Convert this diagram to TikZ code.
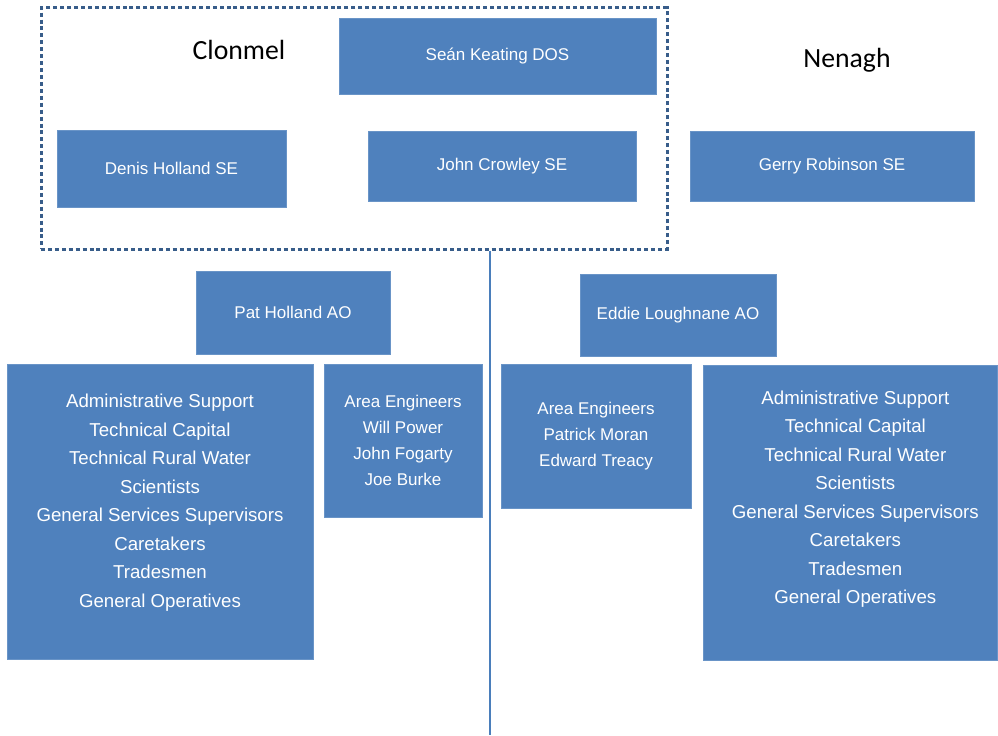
\documentclass[tikz,border=0pt]{standalone}
\usepackage{fontspec}
\setmainfont{Liberation Sans}
\newfontfamily\judulfont{Carlito}
\usepackage{xcolor}
\usepackage{tikz}
\usetikzlibrary{positioning}

\definecolor{biru}{HTML}{4F81BD}
\definecolor{birutua}{HTML}{385D8A}
\definecolor{garisbiru}{HTML}{4A7EBB}

\begin{document}
\begin{tikzpicture}[
    x=0.75pt, y=-0.75pt,
    kotak/.style={fill=biru, draw=biru!85!white, inner sep=0pt, align=center,
                  text=white, font=\fontsize{12.75}{19.5}\selectfont},
    teksbesar/.style={align=center, text=white, inner sep=0pt,
                  font=\fontsize{14}{21.4}\selectfont},
    judul/.style={font=\judulfont\fontsize{20.8}{24}\selectfont},
    bingkai/.style={draw=birutua, line width=2.25pt, dash pattern=on 3pt off 2.2pt,
                  inner sep=0pt},
    garis/.style={draw=garisbiru, line width=1.2pt}
  ]
    \useasboundingbox (0,0) rectangle (998,735);

    % kotak putus-putus Clonmel
    \node[bingkai, minimum width=469.5pt, minimum height=180.75pt] (frame) at (354,128.5) {};
    \node[judul] (clonmel) at (239,50) {Clonmel};
    \node[judul] (nenagh) at (847,60) {Nenagh};

    % baris atas
    \node[kotak, minimum width=237.75pt, minimum height=57pt] (dos) at (497.5,56) {Seán Keating DOS};
    \node[kotak, minimum width=171.75pt, minimum height=57.75pt] (se1) at (171.5,168.5) {Denis Holland SE};
    \node[kotak, minimum width=201pt, minimum height=52.5pt] (se2) at (502,166) {John Crowley SE};
    \node[kotak, minimum width=213pt, minimum height=52.5pt] (se3) at (832,166) {Gerry Robinson SE};

    % AO
    \node[kotak, minimum width=145.5pt, minimum height=62.25pt] (ao1) at (293,312.5) {Pat Holland AO};
    \node[kotak, minimum width=147pt, minimum height=61.5pt] (ao2) at (678,315) {Eddie Loughnane AO};

    % staf
    \node[kotak, minimum width=229.5pt, minimum height=221.25pt] (staf1) at (160,511.5) {};
    \node[teksbesar] (teks1) at ([yshift=6.75pt]staf1.center)
      {Administrative Support\\Technical Capital\\Technical Rural Water\\Scientists\\
       General Services Supervisors\\Caretakers\\Tradesmen\\General Operatives};
    \node[kotak, minimum width=118.5pt, minimum height=114.75pt] (ae1) at (403,440.5)
      {Area Engineers\\Will Power\\John Fogarty\\Joe Burke};
    \node[kotak, minimum width=142.5pt, minimum height=108pt] (ae2) at (596,436)
      {Area Engineers\\Patrick Moran\\Edward Treacy};
    \node[kotak, minimum width=220.5pt, minimum height=221.25pt] (staf2) at (850,512.5) {};
    \node[teksbesar] (teks2) at ([xshift=4pt,yshift=10pt]staf2.center)
      {Administrative Support\\Technical Capital\\Technical Rural Water\\Scientists\\
       General Services Supervisors\\Caretakers\\Tradesmen\\General Operatives};

    % garis tengah
    \coordinate (bawah) at (490,735);
    \draw[garis] (bawah |- frame.south) -- (bawah);
  \end{tikzpicture}
\end{document}
